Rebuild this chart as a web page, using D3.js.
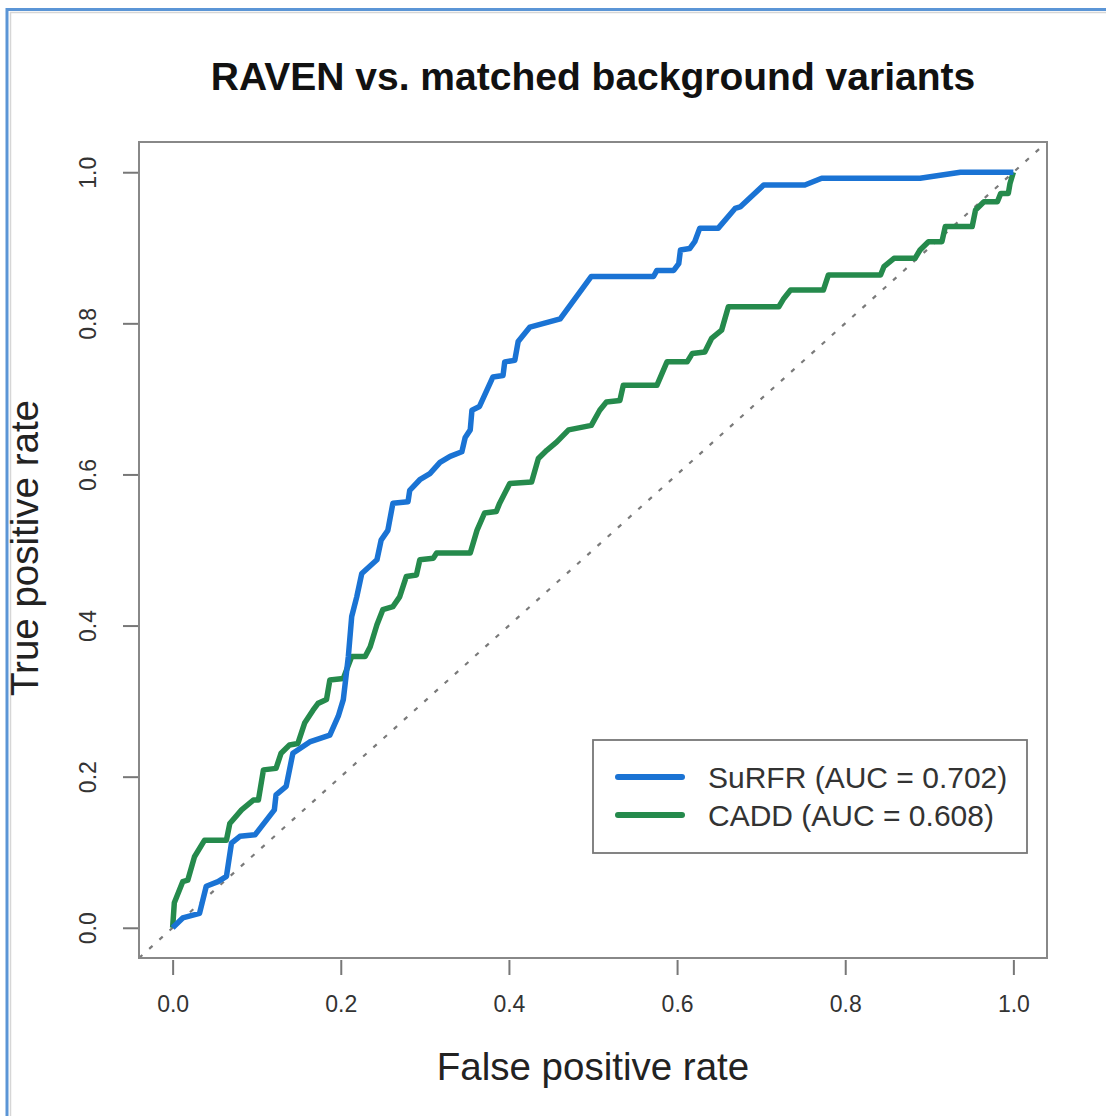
<!DOCTYPE html>
<html lang="en">
<head>
  <meta charset="UTF-8">
  <title>RAVEN vs. matched background variants</title>
  <style>
    html, body { margin: 0; padding: 0; background: #fff; }
    svg { display: block; font-family: "Liberation Sans", Arial, sans-serif; }
    .frame { fill: none; }
    .tick line { stroke: #777; stroke-width: 2; }
    .tick text { fill: #333; font-size: 23px; }
  </style>
</head>
<body>
  <svg width="1106" height="1116"></svg>

  <script src="https://cdn.jsdelivr.net/npm/d3@7"></script>
  <script>
    // ROC points
    const surfrFpr = [0, 0.012, 0.032, 0.040, 0.054, 0.064, 0.070, 0.080, 0.098, 0.121, 0.123, 0.135, 0.143, 0.163, 0.187, 0.197,
      0.203, 0.209, 0.213, 0.219, 0.225, 0.243, 0.248, 0.256, 0.262, 0.280, 0.282, 0.294, 0.306, 0.318, 0.330, 0.344, 0.348,
      0.354, 0.356, 0.365, 0.381, 0.393, 0.395, 0.407, 0.411, 0.425, 0.461, 0.498, 0.572, 0.576, 0.596, 0.602, 0.604, 0.615,
      0.621, 0.627, 0.649, 0.669, 0.675, 0.703, 0.752, 0.772, 0.889, 0.937, 1];
    const surfrTpr = [0, 0.013, 0.019, 0.055, 0.061, 0.068, 0.112, 0.121, 0.123, 0.156, 0.176, 0.187, 0.231, 0.246, 0.255, 0.280,
      0.302, 0.359, 0.412, 0.438, 0.469, 0.487, 0.513, 0.526, 0.562, 0.564, 0.579, 0.593, 0.601, 0.616, 0.624, 0.630, 0.649,
      0.659, 0.685, 0.690, 0.729, 0.731, 0.749, 0.751, 0.776, 0.795, 0.806, 0.862, 0.862, 0.870, 0.870, 0.879, 0.897, 0.899,
      0.908, 0.926, 0.926, 0.952, 0.954, 0.983, 0.983, 0.992, 0.992, 1, 1];

    const caddFpr = [0, 0.002, 0.012, 0.018, 0.026, 0.038, 0.064, 0.068, 0.082, 0.096, 0.102, 0.108, 0.123, 0.129, 0.139, 0.149,
      0.157, 0.167, 0.173, 0.183, 0.187, 0.203, 0.213, 0.229, 0.235, 0.243, 0.250, 0.262, 0.270, 0.278, 0.290, 0.294, 0.310,
      0.314, 0.354, 0.362, 0.371, 0.385, 0.389, 0.401, 0.427, 0.435, 0.445, 0.457, 0.471, 0.498, 0.508, 0.516, 0.532, 0.536,
      0.576, 0.588, 0.612, 0.618, 0.633, 0.641, 0.653, 0.661, 0.721, 0.727, 0.735, 0.774, 0.780, 0.842, 0.846, 0.858, 0.883,
      0.889, 0.899, 0.915, 0.919, 0.951, 0.955, 0.965, 0.981, 0.985, 0.994, 0.996, 1];
    const caddTpr = [0, 0.033, 0.061, 0.063, 0.094, 0.116, 0.116, 0.138, 0.156, 0.169, 0.169, 0.209, 0.211, 0.231, 0.242, 0.244,
      0.271, 0.288, 0.297, 0.302, 0.328, 0.330, 0.359, 0.359, 0.372, 0.401, 0.421, 0.425, 0.438, 0.465, 0.467, 0.487, 0.489,
      0.496, 0.496, 0.526, 0.549, 0.551, 0.562, 0.588, 0.590, 0.621, 0.632, 0.643, 0.659, 0.665, 0.685, 0.696, 0.698, 0.718,
      0.718, 0.749, 0.749, 0.760, 0.762, 0.780, 0.791, 0.822, 0.822, 0.833, 0.844, 0.844, 0.864, 0.864, 0.875, 0.886, 0.886,
      0.897, 0.908, 0.908, 0.928, 0.928, 0.950, 0.961, 0.961, 0.972, 0.972, 0.985, 1];

    const seriesNames = ["SuRFR (AUC = 0.702)", "CADD (AUC = 0.608)"];
    const seriesColors = ["#1a73d4", "#258a4c"];
    const tickValues = [0, 0.2, 0.4, 0.6, 0.8, 1.0];

    const svg = d3.select("svg");

    // screenshot frame
    svg.append("path").attr("class", "frame")
      .attr("d", "M7,1116 V9.5 H1106").attr("stroke", "#5b95d6").attr("stroke-width", 3);
    svg.append("path").attr("class", "frame")
      .attr("d", "M10.5,1116 V12.5 H1106").attr("stroke", "#d6d6d6").attr("stroke-width", 1.5);

    // R style: 4% padding either side
    const x = d3.scaleLinear().domain([-0.04, 1.04]).range([139, 1047]);
    const y = d3.scaleLinear().domain([-0.04, 1.04]).range([958, 142]);

    // chance line
    svg.append("line")
      .attr("x1", x(-0.04)).attr("y1", y(-0.04))
      .attr("x2", x(1.04)).attr("y2", y(1.04))
      .attr("stroke", "#7a7a7a").attr("stroke-width", 2.2)
      .attr("stroke-dasharray", "4.5,9.2");

    const line = d3.line().x(d => x(d[0])).y(d => y(d[1]));
    const series = [
      d3.zip(surfrFpr, surfrTpr),
      d3.zip(caddFpr, caddTpr)
    ];

    // green first so the blue sits on top like in the plot
    [1, 0].forEach(i => {
      svg.append("path")
        .datum(series[i])
        .attr("fill", "none")
        .attr("stroke", seriesColors[i])
        .attr("stroke-width", 5.5)
        .attr("stroke-linejoin", "round")
        .attr("d", line);
    });

    // box
    svg.append("rect")
      .attr("x", x.range()[0]).attr("y", y.range()[1])
      .attr("width", x.range()[1] - x.range()[0])
      .attr("height", y.range()[0] - y.range()[1])
      .attr("fill", "none").attr("stroke", "#888").attr("stroke-width", 2);

    // axes
    svg.append("g")
      .attr("transform", `translate(0,${y.range()[0] + 2})`)
      .call(d3.axisBottom(x).tickValues(tickValues).tickSize(15).tickPadding(21).tickFormat(d3.format(".1f")))
      .call(g => g.select(".domain").remove());

    const yAxis = svg.append("g")
      .attr("transform", `translate(${x.range()[0] - 1},0)`)
      .call(d3.axisLeft(y).tickValues(tickValues).tickSize(15).tickFormat(d3.format(".1f")))
      .call(g => g.select(".domain").remove());
    yAxis.selectAll(".tick text")
      .attr("transform", "rotate(-90)")
      .attr("x", 0).attr("y", -42).attr("dy", 0)
      .attr("text-anchor", "middle");

    // titles
    svg.append("text")
      .attr("x", 593).attr("y", 90)
      .attr("text-anchor", "middle")
      .attr("font-size", 39).attr("font-weight", "bold").attr("fill", "#111")
      .text("RAVEN vs. matched background variants");

    svg.append("text")
      .attr("x", 593).attr("y", 1080)
      .attr("text-anchor", "middle")
      .attr("font-size", 38.5).attr("fill", "#222")
      .text("False positive rate");

    svg.append("text")
      .attr("transform", "translate(38,548) rotate(-90)")
      .attr("text-anchor", "middle")
      .attr("font-size", 38.5).attr("fill", "#222")
      .text("True positive rate");

    // legend
    const legend = svg.append("g").attr("transform", "translate(593,740)");
    legend.append("rect")
      .attr("width", 434).attr("height", 113)
      .attr("fill", "#fff").attr("stroke", "#777").attr("stroke-width", 1.8);

    seriesNames.forEach((name, i) => {
      const row = legend.append("g").attr("transform", `translate(0,${37 + i * 38})`);
      row.append("line")
        .attr("x1", 25).attr("x2", 89)
        .attr("stroke", seriesColors[i]).attr("stroke-width", 6)
        .attr("stroke-linecap", "round");
      row.append("text")
        .attr("x", 115).attr("y", 11)
        .attr("font-size", 30).attr("fill", "#333")
        .text(name);
    });
  </script>
</body>
</html>
